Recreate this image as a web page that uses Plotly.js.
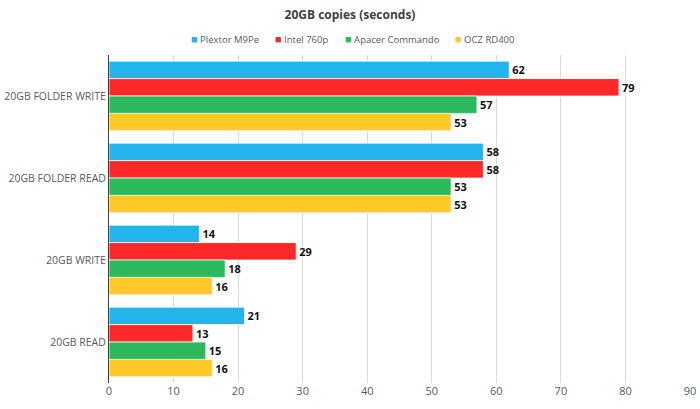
<!DOCTYPE html>
<html>
<head>
<meta charset="utf-8">
<script src="https://cdn.plot.ly/plotly-3.0.1.min.js"></script>
<style>html,body{margin:0;padding:0;background:#fff;}#chart{width:700px;height:409px;}</style>
</head>
<body>
<div id="chart"></div>
<script>
const categories = ["20GB FOLDER WRITE", "20GB FOLDER READ", "20GB WRITE", "20GB READ"];
const seriesNames = ["Plextor M9Pe", "Intel 760p", "Apacer Commando", "OCZ RD400"];
const plextor = [62, 58, 14, 21];
const intel = [79, 58, 29, 13];
const apacer = [57, 53, 18, 15];
const ocz = [53, 53, 16, 16];
const tickVals = [0, 10, 20, 30, 40, 50, 60, 70, 80, 90];

const colors = ["#22b5ec", "#ff2828", "#2bb95c", "#ffc928"];
const allValues = [plextor, intel, apacer, ocz];

const traces = allValues.map((vals, i) => ({
  type: "bar",
  orientation: "h",
  name: seriesNames[i],
  y: categories,
  x: vals,
  text: vals.map(String),
  textposition: "outside",
  cliponaxis: false,
  textfont: {family: "Open Sans, sans-serif", size: 11, color: "#111", weight: "bold"},
  marker: {color: colors[i], line: {color: "#ffffff", width: 0.8}},
  hoverinfo: "x+name"
}));

// legend drawn as annotations (compact, like the reference)
const plotLeft = 109, plotWidth = 581, plotTop = 55, plotHeight = 328;
const legendLeftPx = [189, 273, 343, 453];
const legendY = (plotTop + plotHeight - 38) / plotHeight;
const annotations = seriesNames.map((name, i) => ({
  xref: "paper", yref: "paper",
  x: (legendLeftPx[i] - plotLeft) / plotWidth,
  y: legendY,
  xanchor: "left", yanchor: "middle",
  showarrow: false,
  text: "<span style='color:" + colors[i] + ";font-size:11px'>■</span> " + name,
  font: {family: "Open Sans, sans-serif", size: 9.5, color: "#595959"}
}));

const layout = {
  width: 700,
  height: 409,
  margin: {l: plotLeft, r: 700 - plotLeft - plotWidth, t: plotTop, b: 409 - plotTop - plotHeight},
  paper_bgcolor: "#fff",
  plot_bgcolor: "#fff",
  font: {family: "Open Sans, sans-serif", color: "#595959", size: 11},
  title: {text: "<b>20GB copies (seconds)</b>", x: 0.5, xanchor: "center", y: 0.963, yanchor: "middle", font: {size: 12, color: "#404040"}},
  showlegend: false,
  annotations: annotations,
  barmode: "group",
  bargap: 0.15,
  bargroupgap: 0,
  xaxis: {
    range: [0, 90],
    tickvals: tickVals,
    ticktext: tickVals.map(String),
    showgrid: true,
    gridcolor: "#d9d9d9",
    gridwidth: 1,
    zeroline: false,
    showline: false,
    ticks: "",
    tickfont: {size: 11, color: "#595959"},
    fixedrange: true
  },
  yaxis: {
    type: "category",
    categoryorder: "array",
    categoryarray: categories,
    autorange: "reversed",
    showgrid: false,
    zeroline: false,
    showline: true,
    linecolor: "#404040",
    linewidth: 1,
    ticks: "",
    ticklen: 0,
    tickfont: {size: 10.5, color: "#595959"},
    fixedrange: true
  }
};

Plotly.newPlot("chart", traces, layout, {displayModeBar: false, staticPlot: true});
</script>
</body>
</html>
